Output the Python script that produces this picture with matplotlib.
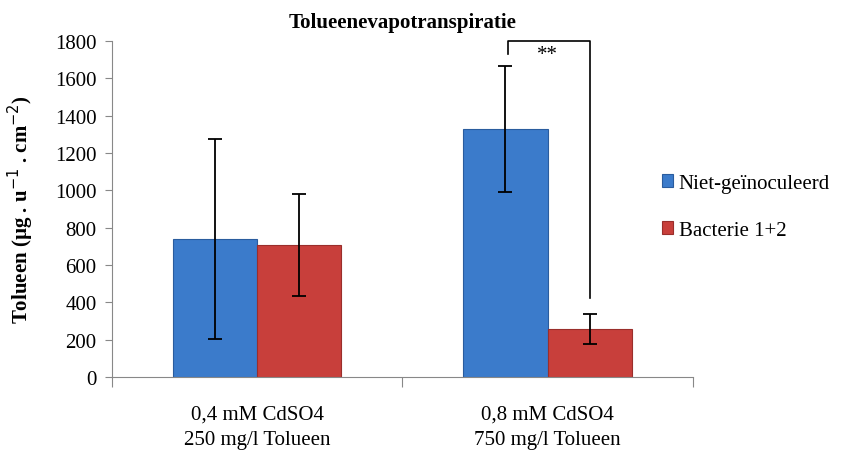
import numpy as np
import matplotlib.pyplot as plt

# data
categories = ["0,4 mM CdSO4\n250 mg/l Tolueen", "0,8 mM CdSO4\n750 mg/l Tolueen"]
series_names = ["Niet-geïnoculeerd", "Bacterie 1+2"]
niet_vals = [739, 1330]
niet_err = [537, 338]
bact_vals = [707, 256]
bact_err = [272, 79]
yticks = list(range(0, 1801, 200))

colors = ["#3B7BCB", "#C83F3B"]
edge = ["#2A5C9E", "#9A2E2B"]

plt.rcParams["font.family"] = ["Liberation Serif", "DejaVu Serif"]

fig = plt.figure(figsize=(8.48, 4.52), dpi=100)
ax = fig.add_axes([0.132, 0.1637, 0.685, 0.7433])

x = np.arange(len(categories))
w = 0.29

ax.bar(x - w / 2, niet_vals, w, color=colors[0], edgecolor=edge[0], linewidth=0.8,
       label=series_names[0], zorder=2)
ax.bar(x + w / 2, bact_vals, w, color=colors[1], edgecolor=edge[1], linewidth=0.8,
       label=series_names[1], zorder=2)
ax.errorbar(x - w / 2, niet_vals, yerr=niet_err, fmt="none", ecolor="black",
            elinewidth=1.3, capsize=5, capthick=1.3, zorder=3)
ax.errorbar(x + w / 2, bact_vals, yerr=bact_err, fmt="none", ecolor="black",
            elinewidth=1.3, capsize=5, capthick=1.3, zorder=3)

# significance bracket between the two bars of group 2
bx1 = x[1] - w / 2 + 0.01
bx2 = x[1] + w / 2
ax.plot([bx1, bx1, bx2, bx2], [1730, 1800, 1800, 425], color="black",
        linewidth=1.2, clip_on=False, zorder=4)
ax.text(x[1], 1730, "**", ha="center", va="center", fontsize=15)

ax.set_xlim(-0.5, 1.5)
ax.set_ylim(0, 1800)
ax.set_yticks(yticks)
ax.tick_params(axis="y", labelsize=15, length=5, color="#888888", direction="out",
               pad=6)
ax.set_xticks([-0.5, 0.5, 1.5])
ax.set_xticklabels([])
ax.set_xticks(x, minor=True)
ax.set_xticklabels(categories, minor=True, fontsize=15, linespacing=1.45)
ax.tick_params(axis="x", which="minor", length=0, pad=20)
ax.tick_params(axis="x", which="major", length=7, color="#888888", direction="out")

for side in ["top", "right"]:
    ax.spines[side].set_visible(False)
for side in ["left", "bottom"]:
    ax.spines[side].set_color("#888888")

ax.set_ylabel("Tolueen (µg . u$^{-1}$ . cm$^{-2}$)", fontsize=15, fontweight="bold",
              labelpad=14)
ax.set_title("Tolueenevapotranspiratie", fontsize=15, fontweight="bold", pad=10)

handles, labels = ax.get_legend_handles_labels()
fig.legend(handles, labels, loc="center left", bbox_to_anchor=(662 / 848, 1 - 208 / 452),
           frameon=False, fontsize=15, handlelength=0.55, handleheight=0.55,
           handletextpad=0.25, labelspacing=1.35, borderaxespad=0, borderpad=0)

fig.savefig("out.png", dpi=100)
